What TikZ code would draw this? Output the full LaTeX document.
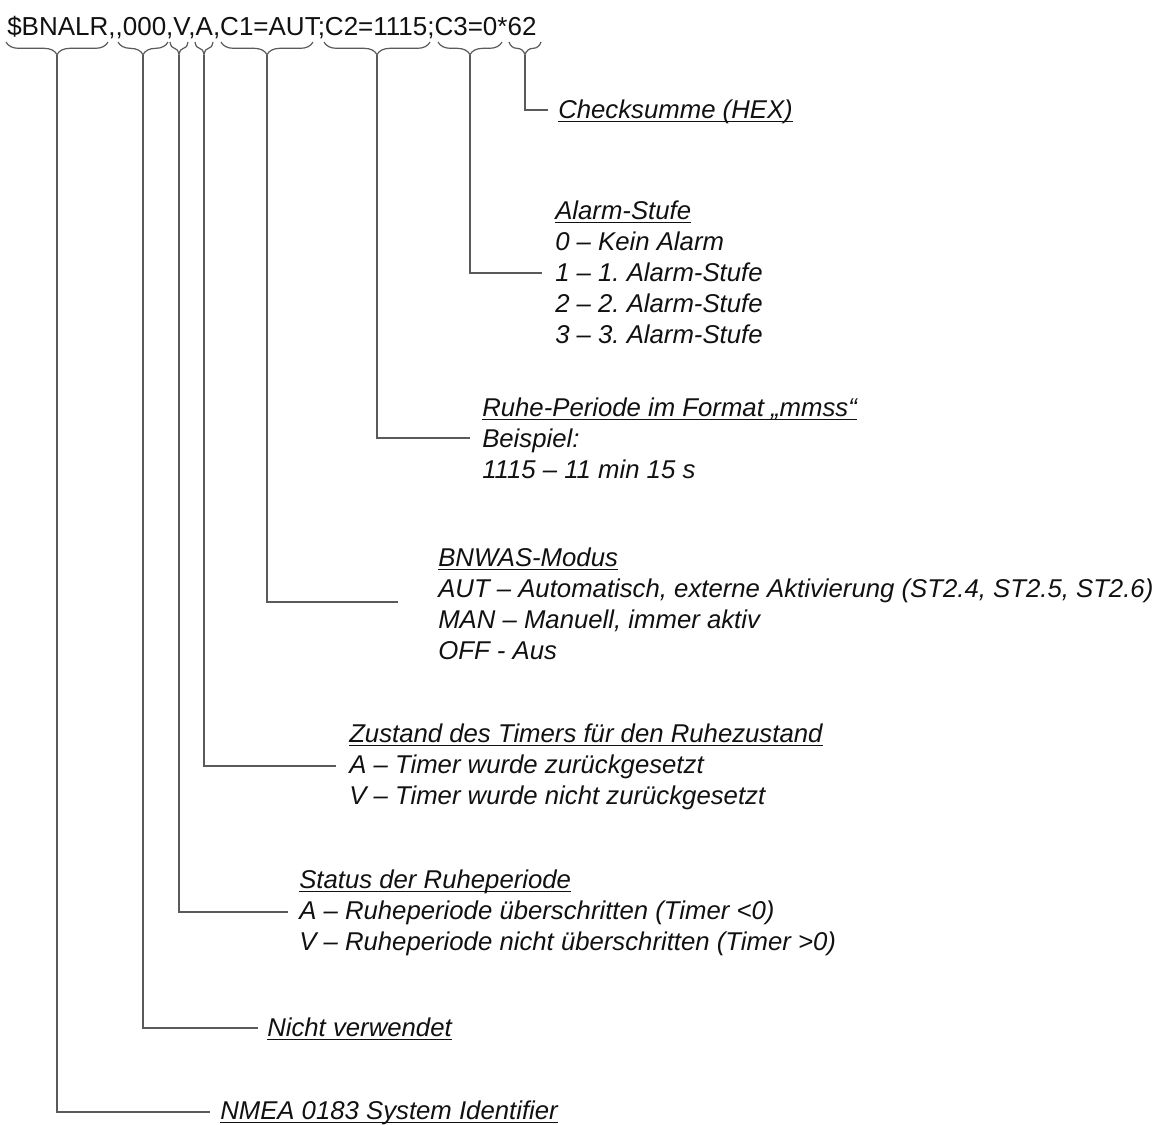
\documentclass[tikz,border=0pt]{standalone}
\usepackage{fontspec}
\setmainfont{Liberation Sans}
\usetikzlibrary{decorations.pathreplacing}
\definecolor{linegray}{HTML}{5A5A5A}
\definecolor{txt}{HTML}{111111}
\tikzset{
  lbl/.style={anchor=base west, inner sep=0pt, text=txt, font=\fontsize{19.3pt}{23.25pt}\selectfont\itshape},
  hdrtext/.style={anchor=base west, inner sep=0pt, text=txt, font=\fontsize{19.5pt}{23.25pt}\selectfont},
  conn/.style={draw=linegray, line width=0.9pt},
  brc/.style={draw=linegray, line width=0.9pt, decorate, decoration={brace, mirror, amplitude=9.5pt}},
  uline/.style={draw=txt, line width=1.1pt}
}
\newcommand{\ul}[1]{\draw[uline] ([yshift=-2.7pt]#1.base west) -- ([yshift=-2.7pt]#1.base east);}
\frenchspacing
\begin{document}
\begin{tikzpicture}[x=0.75pt, y=-0.75pt]
\useasboundingbox (0,0) rectangle (1162,1124);
\fill[white] (0,0) rectangle (1162,1124);

% header
\node[hdrtext] (hdr) at (7,36) {\$BNALR,{},000,V,A,C1=AUT;C2=1115;C3=0*62};

% brace end points
\coordinate (s1a) at (6,42);   \coordinate (s1b) at (108,42);
\coordinate (s2a) at (118,42); \coordinate (s2b) at (168,42);
\coordinate (s3a) at (170,42); \coordinate (s3b) at (188,42);
\coordinate (s4a) at (195,42); \coordinate (s4b) at (213,42);
\coordinate (s5a) at (221,42); \coordinate (s5b) at (313,42);
\coordinate (s6a) at (324,42); \coordinate (s6b) at (430,42);
\coordinate (s7a) at (438,42); \coordinate (s7b) at (502,42);
\coordinate (s8a) at (509,42); \coordinate (s8b) at (541,42);
\foreach \i in {1,...,8} { \draw[brc] (s\i a) -- (s\i b); }

% brace tips
\coordinate (t1) at (57,55);
\coordinate (t2) at (143,55);
\coordinate (t3) at (179,55);
\coordinate (t4) at (204,55);
\coordinate (t5) at (267,55);
\coordinate (t6) at (377,55);
\coordinate (t7) at (470,55);
\coordinate (t8) at (525,55);

% connector ends
\coordinate (e1) at (210,1112);
\coordinate (e2) at (258,1028);
\coordinate (e3) at (288,912);
\coordinate (e4) at (336,766);
\coordinate (e5) at (398,602);
\coordinate (e6) at (470,438);
\coordinate (e7) at (542,273);
\coordinate (e8) at (548,110);
\foreach \i in {1,...,8} { \draw[conn] (t\i) |- (e\i); }

% Checksumme
\node[lbl] (cs) at (558,118) {Checksumme (HEX)}; \ul{cs}

% Alarm-Stufe
\node[lbl] (as0) at (555,219) {Alarm-Stufe}; \ul{as0}
\node[lbl] (as1) at (555,250) {0 – Kein Alarm};
\node[lbl] (as2) at (555,281) {1 – 1. Alarm-Stufe};
\node[lbl] (as3) at (555,312) {2 – 2. Alarm-Stufe};
\node[lbl] (as4) at (555,343) {3 – 3. Alarm-Stufe};

% Ruhe-Periode
\node[lbl] (rp0) at (482,416) {Ruhe-Periode im Format „mmss“}; \ul{rp0}
\node[lbl] (rp1) at (482,447) {Beispiel:};
\node[lbl] (rp2) at (482,478) {1115 – 11 min 15 s};

% BNWAS-Modus
\node[lbl] (bm0) at (438,566) {BNWAS-Modus}; \ul{bm0}
\node[lbl] (bm1) at (438,597) {AUT – Automatisch, externe Aktivierung (ST2.4, ST2.5, ST2.6)};
\node[lbl] (bm2) at (438,628) {MAN – Manuell, immer aktiv};
\node[lbl] (bm3) at (438,659) {OFF - Aus};

% Zustand des Timers
\node[lbl] (zt0) at (349,742) {Zustand des Timers für den Ruhezustand}; \ul{zt0}
\node[lbl] (zt1) at (349,773) {A – Timer wurde zurückgesetzt};
\node[lbl] (zt2) at (349,804) {V – Timer wurde nicht zurückgesetzt};

% Status der Ruheperiode
\node[lbl] (sr0) at (299,888) {Status der Ruheperiode}; \ul{sr0}
\node[lbl] (sr1) at (299,919) {A – Ruheperiode überschritten (Timer <0)};
\node[lbl] (sr2) at (299,950) {V – Ruheperiode nicht überschritten (Timer >0)};

% Nicht verwendet
\node[lbl] (nv) at (267,1036) {Nicht verwendet}; \ul{nv}

% NMEA
\node[lbl] (nm) at (220,1119) {NMEA 0183 System Identifier}; \ul{nm}
\end{tikzpicture}
\end{document}
